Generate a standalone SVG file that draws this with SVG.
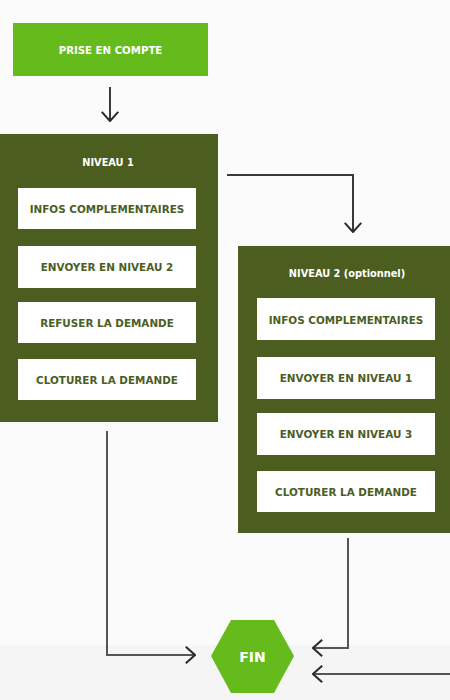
<svg xmlns="http://www.w3.org/2000/svg" width="450" height="700" viewBox="0 0 450 700">
<defs>
<style>
.bg{fill:#fbfbfb}
.start{fill:#66bb1c}
.panel{fill:#4b5e1f}
.item{fill:#ffffff}
.t{font-family:"DejaVu Sans","Liberation Sans",sans-serif;font-weight:bold;text-anchor:middle;dominant-baseline:central}
.tw{fill:#ffffff;font-size:10.2px}
.tt{fill:#ffffff;font-size:9.8px}
.ti{fill:#4b5e1f;font-size:10.4px}
.conn{fill:none;stroke:#3a3a3a;stroke-width:2}
.conn2{fill:none;stroke:#555555;stroke-width:2}
</style>
<marker id="arr" viewBox="0 0 12 20" refX="11" refY="10" markerWidth="11" markerHeight="19" markerUnits="userSpaceOnUse" orient="auto">
<path d="M1,1 L11,10 L1,19" fill="none" stroke="#2a2a2a" stroke-width="2.2"/>
</marker>
</defs>
<rect class="bg" x="0" y="0" width="450" height="700"/>
<rect x="0" y="645" width="450" height="55" fill="#f5f5f5"/>

<g id="prise-en-compte">
<rect class="start" x="13" y="23" width="195" height="53"/>
<text class="t tw" x="110.5" y="50">PRISE EN COMPTE</text>
</g>

<g id="niveau1">
<rect class="panel" x="0" y="134" width="218" height="288"/>
<text class="t tt" x="108" y="162">NIVEAU 1</text>
<rect class="item" x="18" y="188" width="178" height="41"/>
<text class="t ti" x="107" y="209">INFOS COMPLEMENTAIRES</text>
<rect class="item" x="18" y="246" width="178" height="42"/>
<text class="t ti" x="107" y="267">ENVOYER EN NIVEAU 2</text>
<rect class="item" x="18" y="302" width="178" height="41"/>
<text class="t ti" x="107" y="323">REFUSER LA DEMANDE</text>
<rect class="item" x="18" y="359" width="178" height="41"/>
<text class="t ti" x="107" y="380">CLOTURER LA DEMANDE</text>
</g>

<g id="niveau2">
<rect class="panel" x="238" y="246" width="212" height="287"/>
<text class="t tt" x="347" y="273">NIVEAU 2 (optionnel)</text>
<rect class="item" x="257" y="298" width="178" height="42"/>
<text class="t ti" x="346" y="320">INFOS COMPLEMENTAIRES</text>
<rect class="item" x="257" y="357" width="178" height="42"/>
<text class="t ti" x="346" y="378">ENVOYER EN NIVEAU 1</text>
<rect class="item" x="257" y="413" width="178" height="42"/>
<text class="t ti" x="346" y="434">ENVOYER EN NIVEAU 3</text>
<rect class="item" x="257" y="471" width="178" height="41"/>
<text class="t ti" x="346" y="492">CLOTURER LA DEMANDE</text>
</g>

<g id="fin">
<polygon class="start" points="211,656 231,620 274,620 294,656 274,693 231,693"/>
<text class="t" x="252.5" y="657" fill="#ffffff" font-size="14">FIN</text>
</g>

<g id="connectors">
<path class="conn" d="M110,87 L110,121" marker-end="url(#arr)"/>
<path class="conn" d="M227,175 L353,175 L353,232" marker-end="url(#arr)"/>
<path class="conn2" d="M107,431 L107,655 L195,655" marker-end="url(#arr)"/>
<path class="conn2" d="M348,538 L348,648 L313,648" marker-end="url(#arr)"/>
<path class="conn2" d="M450,674 L313,674" marker-end="url(#arr)"/>
</g>
</svg>
